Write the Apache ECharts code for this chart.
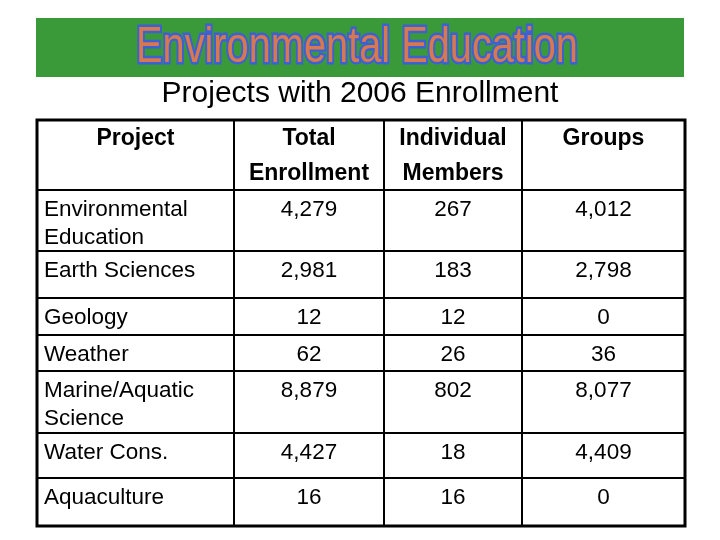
<!DOCTYPE html>
<html>
<head>
<meta charset="utf-8">
<script src="https://cdn.jsdelivr.net/npm/echarts@6/dist/echarts.min.js"></script>
<style>
html, body { margin: 0; background: #fff; }
#chart { width: 720px; height: 540px; }
</style>
</head>
<body>
<div id="chart"></div>
<script>
const headers = ['Project', 'Total\nEnrollment', 'Individual\nMembers', 'Groups']
const projects = ['Environmental\nEducation', 'Earth Sciences', 'Geology', 'Weather', 'Marine/Aquatic\nScience', 'Water Cons.', 'Aquaculture']
const totalEnrollment = [4279, 2981, 12, 62, 8879, 4427, 16]
const individualMembers = [267, 183, 12, 26, 802, 18, 16]
const groups = [4012, 2798, 0, 36, 8077, 4409, 0]

// table layout, px from the table's top-left corner
const colEdges = [0, 197, 347, 485, 648]
const rowEdges = [0, 70, 131, 178, 215, 251, 313, 358, 406]

const valueCols = [totalEnrollment, individualMembers, groups]
const cells = []
headers.forEach((h, c) => cells.push([c, 0, 0]))
projects.forEach((p, i) => {
	cells.push([0, i + 1, 0])
	valueCols.forEach((col, j) => cells.push([j + 1, i + 1, col[i]]))
})

function renderCell(params, api) {
	const c = api.value(0)
	const r = api.value(1)
	const p0 = api.coord([colEdges[c], rowEdges[r]])
	const p1 = api.coord([colEdges[c + 1], rowEdges[r + 1]])
	let text
	let align = 'center'
	let x = (p0[0] + p1[0]) / 2
	let weight = 'normal'
	let lh = 28
	let size = 22.5
	let dy = 5.5
	if (r === 0) {
		text = headers[c]
		weight = 'bold'
		lh = 35
		size = 23
		dy = 1
	} else if (c === 0) {
		text = projects[r - 1]
		align = 'left'
		x = p0[0] + 7
	} else {
		text = api.value(2).toLocaleString('en-US')
	}
	return {
		type: 'group',
		children: [
			{
				type: 'rect',
				shape: { x: p0[0], y: p0[1], width: p1[0] - p0[0], height: p1[1] - p0[1] },
				style: { fill: 'none', stroke: '#000', lineWidth: 2 }
			},
			{
				type: 'text',
				x: x,
				y: p0[1] + dy,
				style: {
					text: text,
					fill: '#000',
					fontSize: size,
					fontWeight: weight,
					fontFamily: 'Liberation Sans, Arial, sans-serif',
					align: align,
					verticalAlign: 'top',
					lineHeight: lh
				}
			}
		]
	}
}

const chart = echarts.init(document.getElementById('chart'), null, { renderer: 'canvas' })
chart.setOption({
	animation: false,
	backgroundColor: '#fff',
	graphic: [
		{
			type: 'rect',
			shape: { x: 36, y: 18, width: 648, height: 59 },
			style: { fill: '#3a9a3a' }
		},
		{
			type: 'text',
			x: 357,
			y: 48,
			scaleX: 0.795,
			style: {
				text: 'Environmental Education',
				fontSize: 50,
				fontFamily: 'Liberation Sans, Arial, sans-serif',
				fill: '#d8784f',
				stroke: '#3d60d4',
				lineWidth: 4.8,
				align: 'center',
				verticalAlign: 'middle'
			}
		},
		{
			type: 'text',
			x: 360,
			y: 94,
			style: {
				text: 'Projects with 2006 Enrollment',
				fontSize: 30,
				fontFamily: 'Liberation Sans, Arial, sans-serif',
				fill: '#000',
				align: 'center',
				verticalAlign: 'middle'
			}
		}
	],
	grid: {
		left: 37,
		top: 120,
		width: 648,
		height: 406,
		show: true,
		borderColor: '#000',
		borderWidth: 3,
		backgroundColor: 'transparent'
	},
	xAxis: { type: 'value', min: 0, max: 648, show: false },
	yAxis: { type: 'value', min: 0, max: 406, inverse: true, show: false },
	series: [{
		type: 'custom',
		renderItem: renderCell,
		data: cells,
		clip: false
	}]
})
</script>
</body>
</html>
